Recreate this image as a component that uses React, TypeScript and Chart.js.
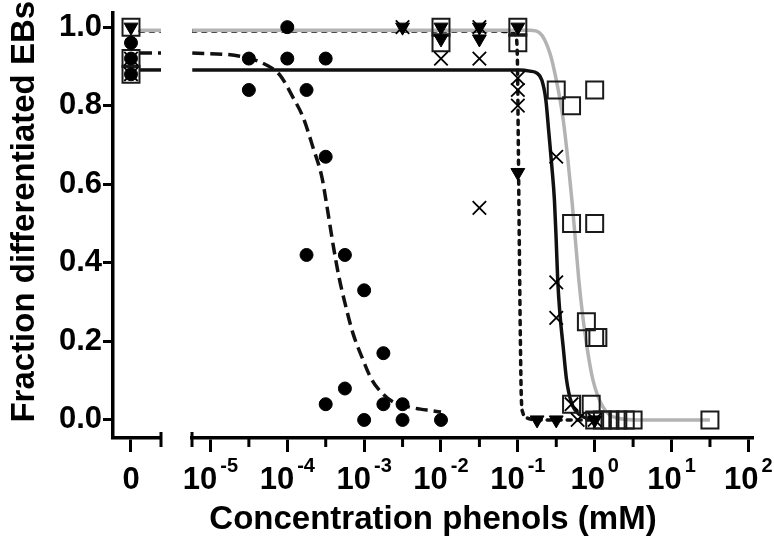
import React, { useEffect, useRef } from 'react';
import { Chart, registerables } from 'chart.js';

Chart.register(...registerables);

// ---------- data (concentration in mM, fraction differentiated EBs) ----------
// values measured at concentration 0 (separate "0" axis segment)
const zeroCircleY = [0.96, 0.92, 0.88];
const zeroSquareY = [1.0, 0.92, 0.88];
const zeroCrossY = [0.92, 0.88];
const zeroTriangleY = [1.0];

// filled circles
const circleX = [3.16e-5, 3.16e-5, 1e-4, 1e-4, 1.78e-4, 1.78e-4, 3.16e-4, 3.16e-4, 3.16e-4, 5.62e-4, 5.62e-4, 1e-3, 1e-3, 1.78e-3, 1.78e-3, 3.16e-3, 3.16e-3, 1e-2];
const circleY = [0.92, 0.84, 1.0, 0.92, 0.84, 0.42, 0.92, 0.67, 0.04, 0.42, 0.08, 0.33, 0.0, 0.17, 0.04, 0.04, 0.0, 0.0];

// open squares
const squareX = [0.01, 0.01, 0.1, 0.1, 0.316, 0.5, 1.0, 0.5, 1.0, 0.78, 1.0, 1.1, 0.5, 0.9, 1.0, 1.26, 1.58, 2.0, 2.5, 3.16, 31.6];
const squareY = [1.0, 0.96, 1.0, 0.96, 0.84, 0.8, 0.84, 0.5, 0.5, 0.25, 0.21, 0.21, 0.04, 0.04, 0, 0, 0, 0, 0, 0, 0];

// crosses
const crossX = [3.16e-3, 0.01, 0.0316, 0.0316, 0.0316, 0.1, 0.1, 0.1, 0.316, 0.316, 0.316, 0.5, 0.6, 1.0];
const crossY = [1.0, 0.92, 1.0, 0.92, 0.54, 0.87, 0.84, 0.8, 0.67, 0.35, 0.26, 0.04, 0.0, 0.0];

// filled down-triangles
const triangleX = [3.16e-3, 0.01, 0.01, 0.0316, 0.0316, 0.1, 0.1, 0.178, 0.316, 1.0];
const triangleY = [1.0, 1.0, 0.97, 1.0, 0.97, 1.0, 0.63, 0, 0, 0];

// fitted curves
const dashedCurveX = [5.8e-6, 2.42e-5, 5.42e-5, 8.02e-5, 1.18e-4, 1.6e-4, 2.15e-4, 2.82e-4, 3.18e-4, 3.59e-4, 4.05e-4, 4.7e-4, 5.62e-4, 7.14e-4, 9.35e-4, 1.26e-3, 1.7e-3, 2.37e-3, 4.31e-3, 7.83e-3, 1e-2];
const dashedCurveY = [0.934, 0.926, 0.903, 0.878, 0.822, 0.771, 0.695, 0.618, 0.56, 0.496, 0.433, 0.364, 0.298, 0.221, 0.16, 0.102, 0.069, 0.046, 0.031, 0.023, 0.02];

const grayCurveX = [5.8e-6, 0.1435, 0.1936, 0.261, 0.322, 0.385, 0.448, 0.505, 0.561, 0.622, 0.692, 0.793, 0.948, 1.28, 1.95, 3.87, 31.6];
const grayCurveY = [0.992, 0.992, 0.985, 0.934, 0.858, 0.771, 0.662, 0.56, 0.458, 0.356, 0.272, 0.186, 0.102, 0.033, 0.005, 0, 0];

const solidCurveX = [5.8e-6, 0.1064, 0.1435, 0.177, 0.2056, 0.2317, 0.2535, 0.2773, 0.2992, 0.3155, 0.3304, 0.3524, 0.389, 0.4305, 0.5, 0.641, 0.948];
const solidCurveY = [0.891, 0.891, 0.888, 0.883, 0.865, 0.814, 0.73, 0.644, 0.56, 0.458, 0.356, 0.272, 0.186, 0.102, 0.043, 0.013, 0.0];

const dottedCurveX = [5.8e-6, 0.0585, 0.0838, 0.0944, 0.0987, 0.1016, 0.1047, 0.1079, 0.1112, 0.1164, 0.1312, 0.1936, 0.977];
const dottedCurveY = [0.99, 0.99, 0.987, 0.977, 0.916, 0.687, 0.433, 0.204, 0.051, 0.018, 0.005, 0, 0];

// axis definitions
const yTicks = [0, 0.2, 0.4, 0.6, 0.8, 1.0];
const zeroTicks = [0];
const logTickExponents = [-5, -4, -3, -2, -1, 0, 1, 2];
const curveStubX = [0.5, 1.667];
const xMinExp = -5.24;
const xMaxExp = 2.06;

// ---------- styling / layout ----------
const FONT = '"Liberation Sans", Arial, Helvetica, sans-serif';
const Y_AXIS_W = 113;
const ZERO_SEG_W = 48;
const LOG_SEG_START = 79;
const X_AXIS_H = 62.4;
const TICK_FONT = 31;
const SUP_FONT = 20;
const LABEL_PAD = 10;

const pts = (xs: number[], ys: number[]) => xs.map((x, i) => ({ x, y: ys[i] }));

const brokenAxisPlugin = {
  id: 'brokenAxis',
  afterLayout(chart: any) {
    const a = chart.chartArea;
    const xs = chart.scales.x;
    const xz = chart.scales.xz;
    xz.left = a.left;
    xz.right = a.left + ZERO_SEG_W;
    xz.width = ZERO_SEG_W;
    xz.top = xs.top;
    xz.bottom = xs.bottom;
    xz.height = xs.height;
    xs.left = a.left + LOG_SEG_START;
    xs.width = xs.right - xs.left;
    xz.configure();
    xs.configure();
  },
  afterDraw(chart: any) {
    const ctx = chart.ctx;
    const xs = chart.scales.x;
    const xz = chart.scales.xz;
    const top = xs.top;
    ctx.save();
    ctx.strokeStyle = '#000';
    ctx.lineWidth = 3;
    ctx.lineCap = 'butt';
    for (let i = 0; i < logTickExponents.length - 1; i++) {
      const px = xs.getPixelForValue(Math.pow(10, logTickExponents[i] + 0.5));
      ctx.beginPath();
      ctx.moveTo(px, top);
      ctx.lineTo(px, top + 9);
      ctx.stroke();
    }
    [xz.right, xs.left].forEach((px: number) => {
      ctx.beginPath();
      ctx.moveTo(px, top - 6);
      ctx.lineTo(px, top + 9);
      ctx.stroke();
    });
    const labelY = top + 14 + LABEL_PAD + (TICK_FONT * 1.2) / 2;
    ctx.fillStyle = '#000';
    ctx.textBaseline = 'middle';
    ctx.textAlign = 'left';
    logTickExponents.forEach((e) => {
      const px = xs.getPixelForValue(Math.pow(10, e));
      ctx.font = `bold ${TICK_FONT}px ${FONT}`;
      const base = '10';
      const wb = ctx.measureText(base).width;
      ctx.font = `bold ${SUP_FONT}px ${FONT}`;
      const sup = String(e);
      const ws = ctx.measureText(sup).width;
      const gap = 3;
      const x0 = px - (wb + gap + ws) / 2;
      ctx.font = `bold ${TICK_FONT}px ${FONT}`;
      ctx.fillText(base, x0, labelY);
      ctx.font = `bold ${SUP_FONT}px ${FONT}`;
      ctx.fillText(sup, x0 + wb + gap, labelY - 14);
    });
    ctx.restore();
  },
};

const circleStyle = { pointStyle: 'circle', pointRadius: 6.5, pointHoverRadius: 6.5, pointBackgroundColor: '#000', pointBorderColor: '#000', pointBorderWidth: 1 };
const squareStyle = { pointStyle: 'rect', pointRadius: 12, pointHoverRadius: 12, pointBackgroundColor: 'rgba(0,0,0,0)', pointBorderColor: '#1a1a1a', pointBorderWidth: 2 };
const crossStyle = { pointStyle: 'crossRot', pointRadius: 9.5, pointHoverRadius: 9.5, pointBackgroundColor: '#000', pointBorderColor: '#000', pointBorderWidth: 1.8 };
const triangleStyle = { pointStyle: 'triangle', pointRotation: 180, pointRadius: 8, pointHoverRadius: 8, pointBackgroundColor: '#000', pointBorderColor: '#000', pointBorderWidth: 1 };

const grayLine = { borderColor: '#b3b3b3', borderWidth: 3.5 };
const solidLine = { borderColor: '#111', borderWidth: 3.5 };
const dashedLine = { borderColor: '#111', borderWidth: 3.5, borderDash: [12, 6] };
const dottedLine = { borderColor: '#111', borderWidth: 3.5, borderDash: [4, 6], borderCapStyle: 'round' };

const pointSet = (label: string, data: any[], axis: string, style: any, order: number) => ({
  label, data, xAxisID: axis, yAxisID: 'y', showLine: false, clip: false, order, ...style,
});
const curveSet = (label: string, data: any[], axis: string, style: any, order: number) => ({
  label, data, xAxisID: axis, yAxisID: 'y', pointRadius: 0, pointHoverRadius: 0, fill: false,
  cubicInterpolationMode: 'monotone', order, ...style,
});

function buildConfig(): any {
  const zeros = (ys: number[]) => ys.map((y) => ({ x: 0, y }));
  const stub = (y: number) => curveStubX.map((x) => ({ x, y }));
  return {
    type: 'line',
    data: {
      datasets: [
        pointSet('triangles', pts(triangleX, triangleY), 'x', triangleStyle, 1),
        pointSet('triangles0', zeros(zeroTriangleY), 'xz', triangleStyle, 1),
        pointSet('crosses', pts(crossX, crossY), 'x', crossStyle, 2),
        pointSet('crosses0', zeros(zeroCrossY), 'xz', crossStyle, 2),
        pointSet('circles', pts(circleX, circleY), 'x', circleStyle, 3),
        pointSet('circles0', zeros(zeroCircleY), 'xz', circleStyle, 3),
        pointSet('squares', pts(squareX, squareY), 'x', squareStyle, 4),
        pointSet('squares0', zeros(zeroSquareY), 'xz', squareStyle, 4),
        curveSet('gray fit', pts(grayCurveX, grayCurveY), 'x', grayLine, 5),
        curveSet('gray fit 0', stub(grayCurveY[0]), 'xz', grayLine, 5),
        curveSet('solid fit', pts(solidCurveX, solidCurveY), 'x', solidLine, 6),
        curveSet('solid fit 0', stub(solidCurveY[0]), 'xz', solidLine, 6),
        curveSet('dashed fit', pts(dashedCurveX, dashedCurveY), 'x', dashedLine, 7),
        curveSet('dashed fit 0', stub(dashedCurveY[0]), 'xz', dashedLine, 7),
        curveSet('dotted fit', pts(dottedCurveX, dottedCurveY), 'x', dottedLine, 8),
        curveSet('dotted fit 0', stub(dottedCurveY[0]), 'xz', dottedLine, 8),
      ],
    },
    options: {
      responsive: false,
      animation: false,
      events: [],
      layout: { autoPadding: false, padding: { top: 13, right: 21, bottom: 1, left: 0 } },
      plugins: {
        legend: { display: false },
        tooltip: { enabled: false },
        title: {
          display: true,
          position: 'bottom',
          fullSize: false,
          text: 'Concentration phenols (mM)',
          color: '#000',
          font: { family: FONT, size: 33, weight: 'bold' },
          padding: { top: 0, bottom: 0 },
        },
      },
      scales: {
        y: {
          type: 'linear',
          position: 'left',
          min: -0.046,
          max: 1.036,
          afterBuildTicks: (s: any) => { s.ticks = yTicks.map((v) => ({ value: v })); },
          afterFit: (s: any) => { s.width = Y_AXIS_W; s.paddingTop = 0; s.paddingBottom = 0; },
          ticks: {
            color: '#000',
            padding: 1,
            font: { family: FONT, size: TICK_FONT, weight: 'bold' },
            callback: (v: any) => Number(v).toFixed(1),
          },
          grid: { drawOnChartArea: false, tickLength: 10, tickWidth: 3, tickColor: '#000' },
          border: { display: true, width: 3.5, color: '#000' },
          title: {
            display: true,
            text: '   Fraction differentiated EBs',
            color: '#000',
            font: { family: FONT, size: 33, weight: 'bold' },
            padding: { top: 5, bottom: 0 },
          },
        },
        x: {
          type: 'logarithmic',
          position: 'bottom',
          min: Math.pow(10, xMinExp),
          max: Math.pow(10, xMaxExp),
          afterBuildTicks: (s: any) => { s.ticks = logTickExponents.map((e) => ({ value: Math.pow(10, e) })); },
          afterFit: (s: any) => { s.height = X_AXIS_H; s.paddingLeft = 0; s.paddingRight = 0; },
          ticks: { display: false, autoSkip: false },
          grid: { drawOnChartArea: false, tickLength: 14, tickWidth: 3, tickColor: '#000' },
          border: { display: true, width: 3.5, color: '#000' },
        },
        xz: {
          type: 'linear',
          position: 'bottom',
          min: -1,
          max: 1.667,
          afterBuildTicks: (s: any) => { s.ticks = zeroTicks.map((v) => ({ value: v })); },
          afterFit: (s: any) => { s.height = 0; s.paddingLeft = 0; s.paddingRight = 0; },
          ticks: {
            color: '#000',
            padding: LABEL_PAD,
            maxRotation: 0,
            minRotation: 0,
            autoSkip: false,
            font: { family: FONT, size: TICK_FONT, weight: 'bold' },
            callback: () => '0',
          },
          grid: { drawOnChartArea: false, tickLength: 14, tickWidth: 3, tickColor: '#000' },
          border: { display: true, width: 3.5, color: '#000' },
        },
      },
    },
    plugins: [brokenAxisPlugin],
  };
}

export default function App() {
  const ref = useRef<HTMLCanvasElement>(null);
  useEffect(() => {
    if (!ref.current) return;
    const chart = new Chart(ref.current, buildConfig());
    return () => chart.destroy();
  }, []);
  return (
    <div style={{ position: 'fixed', left: 0, top: 0, width: 774, height: 541, background: '#fff' }}>
      <canvas ref={ref} width={774} height={541} style={{ display: 'block', width: 774, height: 541 }} />
    </div>
  );
}
